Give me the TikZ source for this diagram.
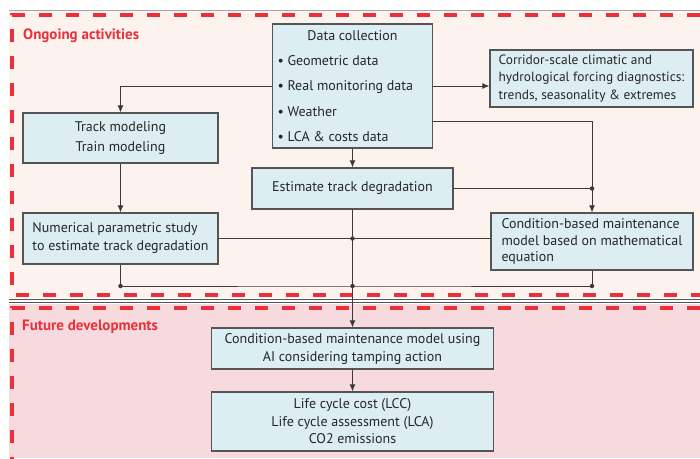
\documentclass[tikz,border=0pt]{standalone}
\usepackage{fontspec}
\setmainfont{PT Sans}
\usepackage{tikz}
\usepackage{xcolor}
\usetikzlibrary{arrows.meta}
\definecolor{boxfill}{HTML}{DCEEF2}
\definecolor{boxline}{HTML}{555555}
\definecolor{linegrey}{HTML}{3A3A3A}
\definecolor{textgrey}{HTML}{262626}
\definecolor{regionred}{HTML}{E8313B}
\definecolor{ongoingfill}{HTML}{FCF3EE}
\definecolor{futurefill}{HTML}{F7DADE}
\tikzset{
    flow-box/.style = {draw=boxline, fill=boxfill, line width=1.1pt, rectangle, inner sep=0pt, text=textgrey, font=\fontsize{14}{17.5}\selectfont},
    flow-arrow/.style = {draw=linegrey, line width=1pt, -{Latex[length=7pt,width=6pt]}},
    flow-line/.style = {draw=linegrey, line width=1pt},
    join-dot/.style = {circle, fill=linegrey, inner sep=0pt, minimum size=4.5pt},
    region-title/.style = {text=regionred, font=\bfseries\fontsize{15}{17}\selectfont, anchor=west, inner sep=0pt},
    region-border/.style = {draw=regionred, line width=3.2pt, dash pattern=on 13pt off 14pt},
}

\begin{document}
\begin{tikzpicture}[x=1pt, y=-1pt]
\useasboundingbox (0,0) rectangle (700,458);
\fill[ongoingfill] (9,10.5) rectangle (700,298);
\fill[futurefill] (9,303.5) rectangle (700,458);
\draw[gray!70, line width=0.6pt] (9,10.5) -- (700,10.5);
\draw[boxline, line width=1pt] (9,299.5) -- (700,299.5);
\draw[boxline, line width=1pt] (9,302.5) -- (700,302.5);
\draw[region-border] (700,15) -- (12,15) -- (12,295) -- (700,295);
\draw[region-border] (700,308) -- (12,308) -- (12,470);
\node[region-title] (ongoing) at (23,36) {Ongoing activities};
\node[region-title] (future) at (22,327) {Future developments};

\node[flow-box, minimum width=160pt, minimum height=124pt] (data) at (352.5,86) {\begin{minipage}{150pt}\fontsize{14}{25.3}\selectfont
    \centering Data collection\par
    \raggedright \textbullet\ Geometric data\par
    \textbullet\ Real monitoring data\par
    \textbullet\ Weather\par
    \textbullet\ LCA \& costs data
\end{minipage}};
\node[flow-box, minimum width=203pt, minimum height=57pt, align=left, font=\fontsize{13.4}{17.5}\selectfont] (corridor) at (591.5,78.5) {Corridor-scale climatic and\\hydrological forcing diagnostics:\\trends, seasonality \& extremes};
\node[flow-box, minimum width=195pt, minimum height=50pt, align=center, font=\fontsize{14}{20}\selectfont] (track) at (120.5,138) {Track modeling\\Train modeling};
\node[flow-box, minimum width=201pt, minimum height=41pt] (estimate) at (352.5,188.5) {Estimate track degradation};
\node[flow-box, minimum width=195pt, minimum height=51pt, align=left, font=\fontsize{14}{18}\selectfont] (numerical) at (120.5,238.5) {Numerical parametric study\\to estimate track degradation};
\node[flow-box, minimum width=202pt, minimum height=57pt, align=left, font=\fontsize{14}{16.5}\selectfont] (condition) at (592,241.5) {Condition-based maintenance\\model based on mathematical\\equation};
\node[flow-box, minimum width=282pt, minimum height=41pt, align=center, font=\fontsize{14}{18}\selectfont] (ai) at (352.5,348.5) {Condition-based maintenance model using\\AI considering tamping action};
\node[flow-box, minimum width=282pt, minimum height=59pt, align=center] (life) at (352.5,421.5) {Life cycle cost (LCC)\\Life cycle assessment (LCA)\\CO2 emissions};

\coordinate (cbm-join) at (estimate.east -| condition.north);
\coordinate (mid-join) at (estimate.south |- numerical.east);
\coordinate (low-join) at (352.5,286);

\draw[flow-arrow] (data.west) -| (track.north);
\draw[flow-arrow] (data.east) -- (data.east -| corridor.west);
\draw[flow-arrow] ([yshift=-35pt]data.east) -| (condition.north);
\draw[flow-arrow] (data.south) -- (estimate.north);
\draw[flow-arrow] (track.south) -- (numerical.north);
\draw[flow-line] (estimate.east) -- (cbm-join);
\draw[flow-line] (numerical.east) -- (numerical.east -| condition.west);
\draw[flow-line] (numerical.south) |- (low-join) -| (condition.south);
\draw[flow-arrow] (estimate.south) -- (ai.north);
\draw[flow-arrow] (ai.south) -- (life.north);

\node[join-dot] at (cbm-join) {};
\node[join-dot] at (mid-join) {};
\node[join-dot] at (low-join) {};
\node[join-dot] at (numerical.south |- low-join) {};
\node[join-dot] at (condition.south |- low-join) {};
\end{tikzpicture}
\end{document}
